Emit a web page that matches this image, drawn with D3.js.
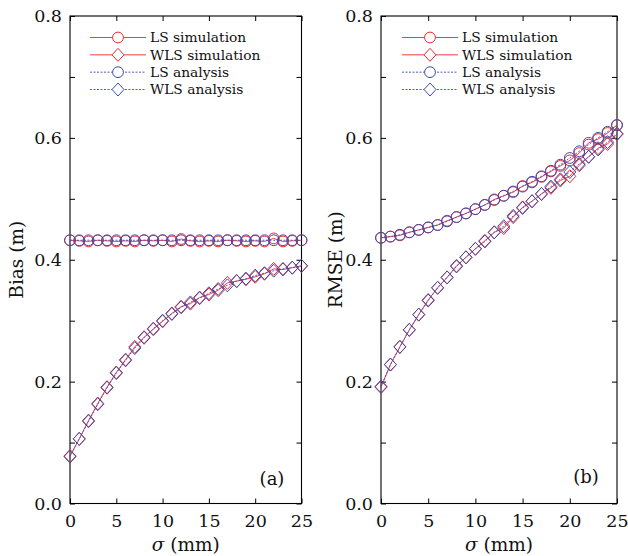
<!DOCTYPE html>
<html><head><meta charset="utf-8">
<script src="https://cdn.jsdelivr.net/npm/d3@7/dist/d3.min.js"></script>
<style>body{margin:0;background:#fff}svg{display:block}</style>
</head><body>
<svg id="c" width="628" height="556"></svg>
<script>
const sigma = d3.range(0, 26);
const xTicks = [0, 5, 10, 15, 20, 25];
const yTicks = [0, 0.1, 0.2, 0.3, 0.4, 0.5, 0.6, 0.7, 0.8];
const legendLabels = ["LS simulation", "WLS simulation", "LS analysis", "WLS analysis"];

// Panel (a): Bias (m)
const biasLSsim  = [0.432,0.431,0.430,0.432,0.431,0.430,0.431,0.430,0.432,0.431,0.432,0.430,0.434,0.431,0.430,0.431,0.430,0.432,0.431,0.430,0.431,0.430,0.435,0.430,0.431,0.432];
const biasWLSsim = [0.078,0.106,0.136,0.164,0.191,0.215,0.236,0.257,0.273,0.286,0.299,0.312,0.323,0.328,0.338,0.343,0.350,0.362,0.365,0.368,0.372,0.377,0.385,0.384,0.387,0.390];
const biasLSana  = [0.432,0.432,0.432,0.432,0.432,0.432,0.432,0.432,0.432,0.432,0.432,0.432,0.432,0.432,0.432,0.432,0.432,0.432,0.432,0.432,0.432,0.432,0.432,0.432,0.432,0.432];
const biasWLSana = [0.077,0.106,0.135,0.163,0.190,0.214,0.235,0.255,0.272,0.287,0.300,0.311,0.322,0.330,0.337,0.345,0.352,0.358,0.365,0.369,0.374,0.378,0.382,0.385,0.387,0.390];

// Panel (b): RMSE (m)
const rmseLSsim  = [0.436,0.438,0.440,0.445,0.449,0.453,0.457,0.464,0.470,0.476,0.483,0.490,0.499,0.505,0.511,0.521,0.527,0.536,0.545,0.554,0.563,0.575,0.592,0.598,0.608,0.621];
const rmseWLSsim = [0.191,0.228,0.257,0.285,0.310,0.334,0.354,0.371,0.390,0.404,0.418,0.431,0.445,0.452,0.470,0.486,0.496,0.508,0.518,0.530,0.537,0.555,0.569,0.583,0.590,0.606];
const rmseLSana  = [0.436,0.438,0.441,0.445,0.449,0.453,0.457,0.463,0.470,0.476,0.483,0.490,0.498,0.505,0.512,0.520,0.528,0.537,0.546,0.556,0.567,0.578,0.589,0.600,0.610,0.621];
const rmseWLSana = [0.192,0.228,0.257,0.285,0.310,0.333,0.354,0.371,0.389,0.404,0.418,0.430,0.445,0.455,0.472,0.485,0.496,0.508,0.520,0.532,0.544,0.557,0.569,0.581,0.593,0.607];

const RED = "#f02828", BLUE = "#3c4bb4";
const FONT = "DejaVu Serif";
const INK = "#111";
const svg = d3.select("#c");

function diamondPath(w, h){ return `M0,${-h}L${w},0L0,${h}L${-w},0Z`; }

function panel(opts){
  const x = d3.scaleLinear().domain([0,25]).range([opts.x0, opts.x1]);
  const y = d3.scaleLinear().domain([0,0.8]).range([503.5, 16]);
  const g = svg.append("g");
  const fmt = d => (Math.round(d*10) % 2 === 0) ? d3.format(".1f")(d) : "";
  const T = 5;

  const ax = (gen, tr) => {
    const a = g.append("g").attr("transform", tr).call(gen);
    a.select(".domain").remove();
    a.selectAll("line").attr("stroke","#000").attr("stroke-width",1);
    a.selectAll("text").attr("font-family",FONT).attr("font-size",17.5).attr("fill",INK);
    return a;
  };
  ax(d3.axisBottom(x).tickValues(xTicks).tickSize(-T).tickPadding(11).tickFormat(d3.format("d")), `translate(0,${y(0)})`);
  ax(d3.axisTop(x).tickValues(xTicks).tickSize(-T).tickFormat(""), `translate(0,${y(0.8)})`);
  ax(d3.axisLeft(y).tickValues(yTicks).tickSize(-T).tickPadding(8).tickFormat(fmt), `translate(${x(0)},0)`);
  ax(d3.axisRight(y).tickValues(yTicks).tickSize(-T).tickFormat(""), `translate(${x(25)},0)`);

  g.append("rect").attr("x",x(0)).attr("y",y(0.8)).attr("width",x(25)-x(0)).attr("height",y(0)-y(0.8))
    .attr("fill","none").attr("stroke","#000").attr("stroke-width",1.1);

  const series = [
    {v: opts.lsSim,  c: RED,  dash: null,   m: "o"},
    {v: opts.wlsSim, c: RED,  dash: null,   m: "d"},
    {v: opts.lsAna,  c: BLUE, dash: "2,1.5", m: "o"},
    {v: opts.wlsAna, c: BLUE, dash: "2,1.5", m: "d"}
  ];
  const line = d3.line().x((d,i)=>x(sigma[i])).y(d=>y(d));
  series.forEach(s => {
    g.append("path").attr("d", line(s.v)).attr("fill","none").attr("stroke",s.c)
      .attr("stroke-width",0.9).attr("stroke-dasharray", s.dash);
    const mk = g.append("g");
    s.v.forEach((d,i) => {
      if (s.m === "o") mk.append("circle").attr("cx",x(sigma[i])).attr("cy",y(d)).attr("r",5.4)
        .attr("fill","none").attr("stroke",s.c).attr("stroke-width",1);
      else mk.append("path").attr("d",diamondPath(6,6.5)).attr("transform",`translate(${x(sigma[i])},${y(d)})`)
        .attr("fill","none").attr("stroke",s.c).attr("stroke-width",1);
    });
  });

  // legend
  const lg = g.append("g");
  const ly = d3.scaleLinear().domain([0,3]).range([37.5, 89.5]);
  series.forEach((s,i) => {
    const yy = ly(i);
    lg.append("line").attr("x1",opts.lx).attr("x2",opts.lx+56).attr("y1",yy).attr("y2",yy)
      .attr("stroke",s.c).attr("stroke-width",0.9).attr("stroke-dasharray",s.dash);
    const cx = opts.lx+28;
    if (s.m === "o") lg.append("circle").attr("cx",cx).attr("cy",yy).attr("r",5.4).attr("fill","#fff").attr("stroke",s.c);
    else lg.append("path").attr("d",diamondPath(6,6.5)).attr("transform",`translate(${cx},${yy})`).attr("fill","#fff").attr("stroke",s.c);
    lg.append("text").attr("x",opts.lx+60).attr("y",yy).attr("dy","0.35em").attr("font-family",FONT)
      .attr("font-size",13.8).attr("fill",INK).text(legendLabels[i]);
  });

  // panel tag
  g.append("text").attr("x",opts.tagX).attr("y",opts.tagY).attr("text-anchor","middle").attr("dy","0.35em")
    .attr("font-family",FONT).attr("font-size",18).attr("fill",INK).text(opts.tag);

  // axis titles
  const xt = g.append("text").attr("x",(x(0)+x(25))/2).attr("y",545).attr("text-anchor","middle").attr("dy","0.35em")
    .attr("font-family",FONT).attr("font-size",18.5).attr("fill",INK);
  xt.append("tspan").attr("font-style","italic").text("σ");
  xt.append("tspan").text(" (mm)");
  g.append("text").attr("transform",`translate(${opts.ytX},${(y(0)+y(0.8))/2}) rotate(-90)`).attr("text-anchor","middle")
    .attr("dy","0.35em").attr("font-family",FONT).attr("font-size",18.5).attr("fill",INK).text(opts.ytitle);
}

panel({x0:70, x1:301.5, lsSim:biasLSsim, wlsSim:biasWLSsim, lsAna:biasLSana, wlsAna:biasWLSana,
  lx:90, tag:"(a)", tagX:272, tagY:479, ytitle:"Bias (m)", ytX:17});
panel({x0:381, x1:617, lsSim:rmseLSsim, wlsSim:rmseWLSsim, lsAna:rmseLSana, wlsAna:rmseWLSana,
  lx:402, tag:"(b)", tagX:586, tagY:477, ytitle:"RMSE (m)", ytX:336});
</script>
</body></html>
